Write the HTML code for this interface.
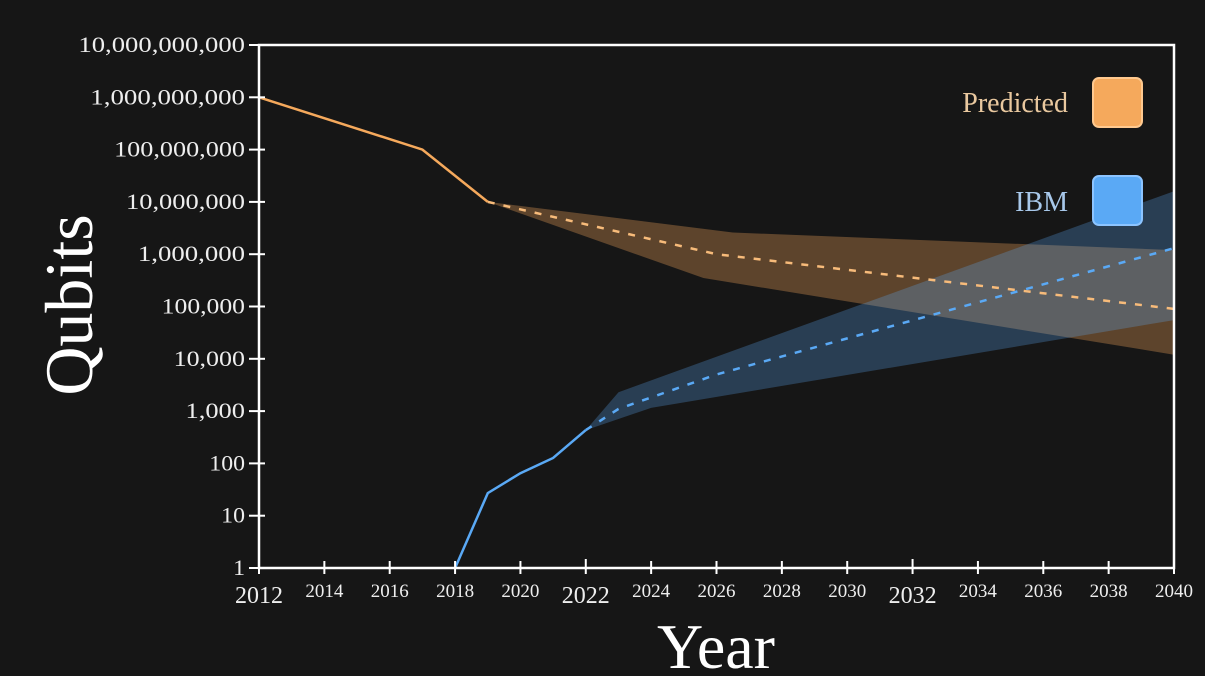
<!DOCTYPE html>
<html><head><meta charset="utf-8"><style>
html,body{margin:0;padding:0;background:#161616;}
svg{display:block;}
text{font-family:"Liberation Serif",serif;}
</style></head><body>
<svg id="chart" width="1205" height="676" viewBox="0 0 1205 676" xmlns="http://www.w3.org/2000/svg">
<rect width="1205" height="676" fill="#161616"/>
<g id="plot"></g>
</svg>
<script>
const yearTicks=[2012,2014,2016,2018,2020,2022,2024,2026,2028,2030,2032,2034,2036,2038,2040];
const bigYears=[2012,2022,2032];
const yTickLabels=["1","10","100","1,000","10,000","100,000","1,000,000","10,000,000","100,000,000","1,000,000,000","10,000,000,000"];
const predSolidYears=[2012,2017,2019];
const predSolidVals=[1e9,1e8,1e7];
const predDashYears=[2019,2026,2040];
const predDashVals=[1e7,1e6,9e4];
const predUpperYears=[2019,2026.5,2040];
const predUpperVals=[1e7,2.6e6,1.2e6];
const predLowerYears=[2019,2025.6,2040];
const predLowerVals=[1e7,3.5e5,1.2e4];
const ibmSolidYears=[2018,2019,2020,2021,2022];
const ibmSolidVals=[1,27,65,127,433];
const ibmDashYears=[2022,2023,2026,2040];
const ibmDashVals=[433,1100,5000,1.3e6];
const ibmUpperYears=[2022,2023,2040];
const ibmUpperVals=[433,2300,1.6e7];
const ibmLowerYears=[2022,2024,2040];
const ibmLowerVals=[433,1150,5.5e4];

const X0=259,X1=1174,Y0=568,Y1=45;
const x=y=>X0+(y-2012)*(X1-X0)/28;
const y=v=>Y0-Math.log10(v)*(Y0-Y1)/10;
const NS="http://www.w3.org/2000/svg";
const g=document.getElementById('plot');
function mk(t,a,p){const e=document.createElementNS(NS,t);for(const k in a)e.setAttribute(k,a[k]);(p||g).appendChild(e);return e;}
function pts(ys,vs){return ys.map((yy,i)=>x(yy).toFixed(1)+','+y(vs[i]).toFixed(1));}

let e;
e=mk('polygon',{points:pts(predUpperYears,predUpperVals).concat(pts(predLowerYears,predLowerVals).reverse()).join(' '),fill:'rgba(240,165,90,0.33)'});


e=mk('polygon',{points:pts(ibmUpperYears,ibmUpperVals).concat(pts(ibmLowerYears,ibmLowerVals).reverse()).join(' '),fill:'rgba(95,170,245,0.28)'});


e=mk('polyline',{points:pts(predSolidYears,predSolidVals).join(' '),fill:'none',stroke:'#f5a95c','stroke-width':2.5});


e=mk('polyline',{points:pts(predDashYears,predDashVals).join(' '),fill:'none',stroke:'#f7bb7a','stroke-width':2.5,'stroke-dasharray':'7 9'});


e=mk('polyline',{points:pts(ibmSolidYears,ibmSolidVals).join(' '),fill:'none',stroke:'#5aa9f5','stroke-width':2.5});


e=mk('polyline',{points:pts(ibmDashYears,ibmDashVals).join(' '),fill:'none',stroke:'#5aa9f5','stroke-width':2.5,'stroke-dasharray':'7 9'});



e=mk('rect',{x:X0,y:Y1,width:X1-X0,height:Y0-Y1,fill:'none',stroke:'#fff','stroke-width':2.5});



yTickLabels.forEach((l,i)=>{
  const yy=Y0-i*(Y0-Y1)/10;
  let t=mk('line',{x1:X0-10,x2:X0+6,y1:yy,y2:yy,stroke:'#fff','stroke-width':2});
  
  
  t=mk('text',{x:X0-14,y:yy+7,'text-anchor':'end','font-size':22,fill:'#eee',textLength:(l.length*11.9).toFixed(1),lengthAdjust:'spacingAndGlyphs'});
  t.textContent=l;
  
  
});
yearTicks.forEach(yr=>{
  const xx=x(yr);const big=bigYears.includes(yr);
  let t=mk('line',{x1:xx,x2:xx,y1:Y0+6,y2:Y0-(big?9:7),stroke:'#fff','stroke-width':2});
  
  
  t=mk('text',{x:xx,y:big?603:597,'text-anchor':'middle','font-size':big?24:19,fill:'#eee'});
  t.textContent=yr;
  
  
});

e=mk('text',{x:716,y:668,'text-anchor':'middle','font-size':64,fill:'#fff'});e.textContent='Year';


e=mk('text',{x:0,y:0,'text-anchor':'middle','font-size':68,fill:'#fff',transform:'translate(92,305) rotate(-90)'});e.textContent='Qubits';



e=mk('text',{x:1068,y:112,'text-anchor':'end','font-size':28,fill:'#e9c89f'});e.textContent='Predicted';


e=mk('rect',{x:1093,y:78,width:49,height:49,rx:6,fill:'#f5a95c',stroke:'#ffc98f','stroke-width':2});


e=mk('text',{x:1068,y:211,'text-anchor':'end','font-size':28,fill:'#a8c8ea'});e.textContent='IBM';


e=mk('rect',{x:1093,y:176,width:49,height:49,rx:6,fill:'#5aa9f5',stroke:'#8cc4ff','stroke-width':2});


</script>
</body></html>
